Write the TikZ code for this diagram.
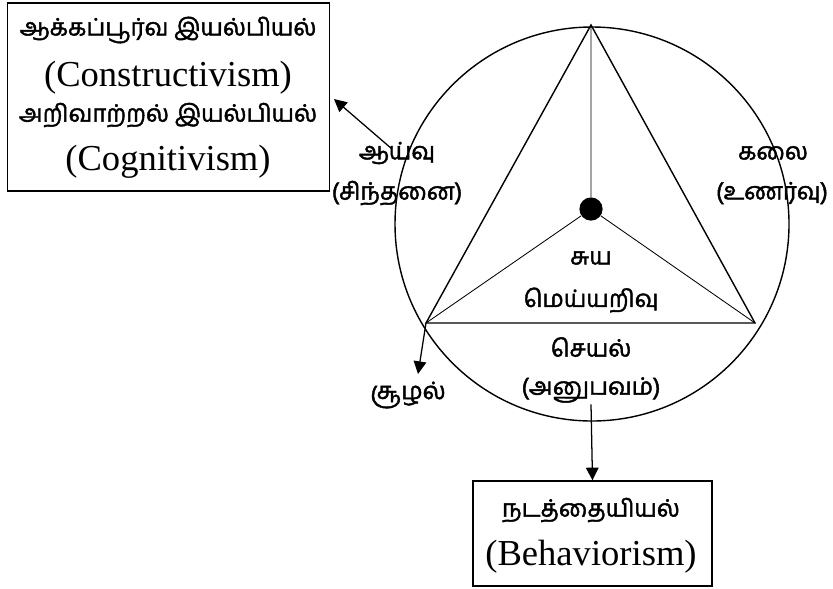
\documentclass[tikz,border=0pt]{standalone}
\usepackage{fontspec}
\setmainfont{Liberation Serif}
\newfontfamily\tamil[Script=Tamil, FakeBold=1.8]{Hind Madurai}
\usetikzlibrary{arrows.meta}

\tikzset{
  tlabel/.style={font=\tamil\fontsize{17}{20}\selectfont, inner sep=1pt},
  elabel/.style={font=\fontsize{26}{30}\selectfont, inner sep=1pt},
  theorybox/.style={draw, line width=1pt, inner sep=0pt},
  pointer/.style={line width=0.9pt, -{Triangle[length=9pt, width=9pt]}},
}

\begin{document}
\begin{tikzpicture}[x=0.025cm, y=-0.025cm]
\useasboundingbox (0,0) rectangle (833,588);

% circle and triangle
\draw[line width=1pt] (592,224) circle [radius=197];
\coordinate (apex) at (591,25);
\coordinate (leftv) at (426,323);
\coordinate (rightv) at (755,323);
\draw[line width=1pt] (apex) -- (leftv) -- (rightv) -- cycle;
\node[circle, fill, inner sep=0pt, minimum size=0.58cm] (self) at (591,209) {};
\draw[line width=0.6pt] (apex) -- (self) -- (leftv);
\draw[line width=0.6pt] (self) -- (rightv);

% labels in the circle
\node[tlabel] (aayvu) at (397,153) {ஆய்வு};
\node[tlabel] (sinthanai) at (397,193) {(சிந்தனை)};
\node[tlabel] (kalai) at (773,153) {கலை};
\node[tlabel] (unarvu) at (772,193) {(உணர்வு)};
\node[tlabel] (suya) at (591,258) {சுய};
\node[tlabel] (meyyarivu) at (591,300) {மெய்யறிவு};
\node[tlabel] (seyal) at (591,347) {செயல்};
\node[tlabel] (anubavam) at (591,390) {(அனுபவம்)};
\node[tlabel] (soozhal) at (408,395) {சூழல்};

% boxes
\node[theorybox, minimum width=8.05cm, minimum height=4.7cm] (mindbox) at (168.5,97) {};
\node[tlabel] (aakkam) at (168,30) {ஆக்கப்பூர்வ இயல்பியல்};
\node[elabel] (construct) at (168,78) {(Constructivism)};
\node[tlabel] (arivu) at (168,115) {அறிவாற்றல் இயல்பியல்};
\node[elabel] (cognit) at (168,162) {(Cognitivism)};

\node[theorybox, minimum width=5.975cm, minimum height=2.625cm] (actbox) at (592.5,533.5) {};
\node[tlabel] (nadathai) at (591,510) {நடத்தையியல்};
\node[elabel] (behav) at (591,557) {(Behaviorism)};

% arrows
\coordinate (aayvufoot) at (392,149);
\coordinate (mindtip) at (334,99);
\coordinate (soozhaltip) at (418,374);
\draw[pointer] (aayvufoot) -- (mindtip);
\draw[pointer] (leftv) -- (soozhaltip);
\draw[pointer] (anubavam.south) -- (actbox.north);
\end{tikzpicture}
\end{document}
